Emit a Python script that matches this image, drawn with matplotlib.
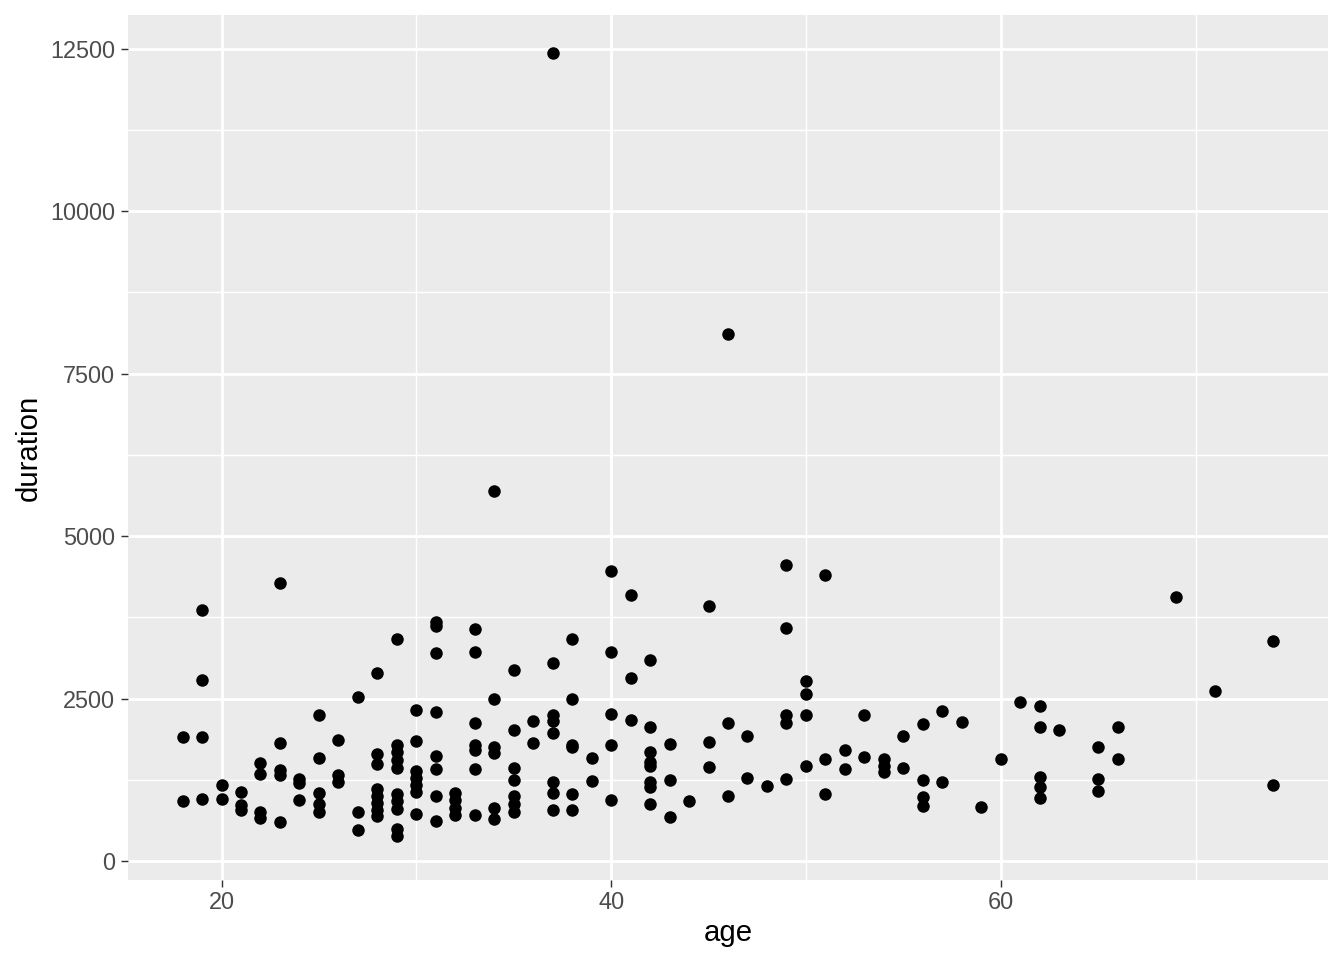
import matplotlib
matplotlib.use("Agg")
import matplotlib.pyplot as plt
from matplotlib.ticker import MultipleLocator

age = [18, 18,
       19, 19, 19, 19,
       20, 20,
       21, 21, 21,
       22, 22, 22, 22,
       23, 23, 23, 23, 23,
       24, 24, 24,
       25, 25, 25, 25, 25,
       26, 26, 26,
       27, 27, 27,
       28, 28, 28, 28, 28, 28, 28, 28,
       29, 29, 29, 29, 29, 29, 29, 29, 29, 29,
       30, 30, 30, 30, 30, 30, 30,
       31, 31, 31, 31, 31, 31, 31, 31,
       32, 32, 32, 32,
       33, 33, 33, 33, 33, 33, 33,
       34, 34, 34, 34, 34, 34,
       35, 35, 35, 35, 35, 35, 35,
       36, 36,
       37, 37, 37, 37, 37, 37, 37, 37,
       38, 38, 38, 38, 38, 38,
       39, 39,
       40, 40, 40, 40, 40,
       41, 41, 41,
       42, 42, 42, 42, 42, 42, 42, 42,
       43, 43, 43,
       44,
       45, 45, 45,
       46, 46, 46,
       47, 47,
       48,
       49, 49, 49, 49, 49,
       50, 50, 50, 50,
       51, 51, 51,
       52, 52,
       53, 53,
       54, 54, 54,
       55, 55,
       56, 56, 56, 56,
       57, 57,
       58,
       59,
       60,
       61,
       62, 62, 62, 62, 62,
       63,
       65, 65, 65,
       66, 66,
       69,
       71,
       74, 74]

duration = [1910, 930,
            3870, 2780, 1910, 950,
            1170, 960,
            1060, 860, 790,
            1510, 1340, 760, 660,
            4280, 1820, 1400, 1320, 600,
            1270, 1200, 940,
            2240, 1580, 1040, 880, 760,
            1860, 1320, 1220,
            2530, 760, 480,
            2890, 1650, 1500, 1110, 1000, 890, 790, 700,
            3410, 1780, 1680, 1550, 1430, 1030, 920, 800, 490, 385,
            2320, 1840, 1390, 1280, 1170, 1060, 730,
            3680, 3620, 3200, 2300, 1620, 1410, 1000, 620,
            1050, 940, 820, 710,
            3570, 3220, 2120, 1780, 1710, 1410, 710,
            5690, 2500, 1760, 1660, 810, 640,
            2940, 2020, 1430, 1250, 1000, 880, 760,
            2160, 1810,
            12430, 3040, 2250, 2150, 1970, 1220, 1050, 790,
            3410, 2500, 1790, 1750, 1030, 790,
            1580, 1230,
            4470, 3210, 2260, 1790, 940,
            4090, 2810, 2170,
            3090, 2060, 1680, 1520, 1470, 1210, 1140, 880,
            1800, 1240, 680,
            930,
            3920, 1830, 1440,
            8110, 2130, 1000,
            1930, 1280,
            1160,
            4560, 3590, 2240, 2120, 1270,
            2770, 2570, 2240, 1470,
            4400, 1570, 1030,
            1710, 1410,
            2250, 1600,
            1570, 1460, 1370,
            1920, 1430,
            2110, 1240, 990, 850,
            2310, 1220,
            2140,
            830,
            1570,
            2440,
            2380, 2060, 1300, 1140, 970,
            2020,
            1760, 1260, 1080,
            2070, 1570,
            4070,
            2620,
            3390, 1170]

x_ticks = [20, 40, 60]
y_ticks = [0, 2500, 5000, 7500, 10000, 12500]
y_tick_labels = ["0", "2500", "5000", "7500", "10000", "12500"]

plt.rcParams['font.family'] = ['Liberation Sans', 'DejaVu Sans']

fig = plt.figure(figsize=(7, 5), dpi=192)
ax = fig.add_axes([128/1344, 1 - 880/960, (1328-128)/1344, (880-15)/960])
ax.set_facecolor('#EBEBEB')

ax.scatter(age, duration, s=22, color='black', linewidths=0, zorder=3)

xmin, xmax = min(age), max(age)
xr = xmax - xmin
ax.set_xlim(xmin - 0.05 * xr, xmax + 0.05 * xr)
ax.set_ylim(-292, 13020)

ax.set_xticks(x_ticks)
ax.set_xticklabels([str(t) for t in x_ticks])
ax.set_yticks(y_ticks)
ax.set_yticklabels(y_tick_labels)
ax.xaxis.set_minor_locator(MultipleLocator(10))
ax.yaxis.set_minor_locator(MultipleLocator(1250))

ax.grid(which='major', color='white', linewidth=1.07, zorder=0)
ax.grid(which='minor', color='white', linewidth=0.53, zorder=0)
ax.set_axisbelow(True)

for s in ax.spines.values():
    s.set_visible(False)

ax.tick_params(which='major', length=2.75, width=0.53, color='#333333',
               labelsize=8.8, labelcolor='#4D4D4D', pad=2.2)
ax.tick_params(axis='x', which='major', pad=1.2)
ax.tick_params(which='minor', length=0)

ax.set_xlabel('age', fontsize=11, color='black', labelpad=2.0)
ax.set_ylabel('duration', fontsize=11, color='black', labelpad=2.75)

fig.savefig('out.png', dpi=192, facecolor='white')
